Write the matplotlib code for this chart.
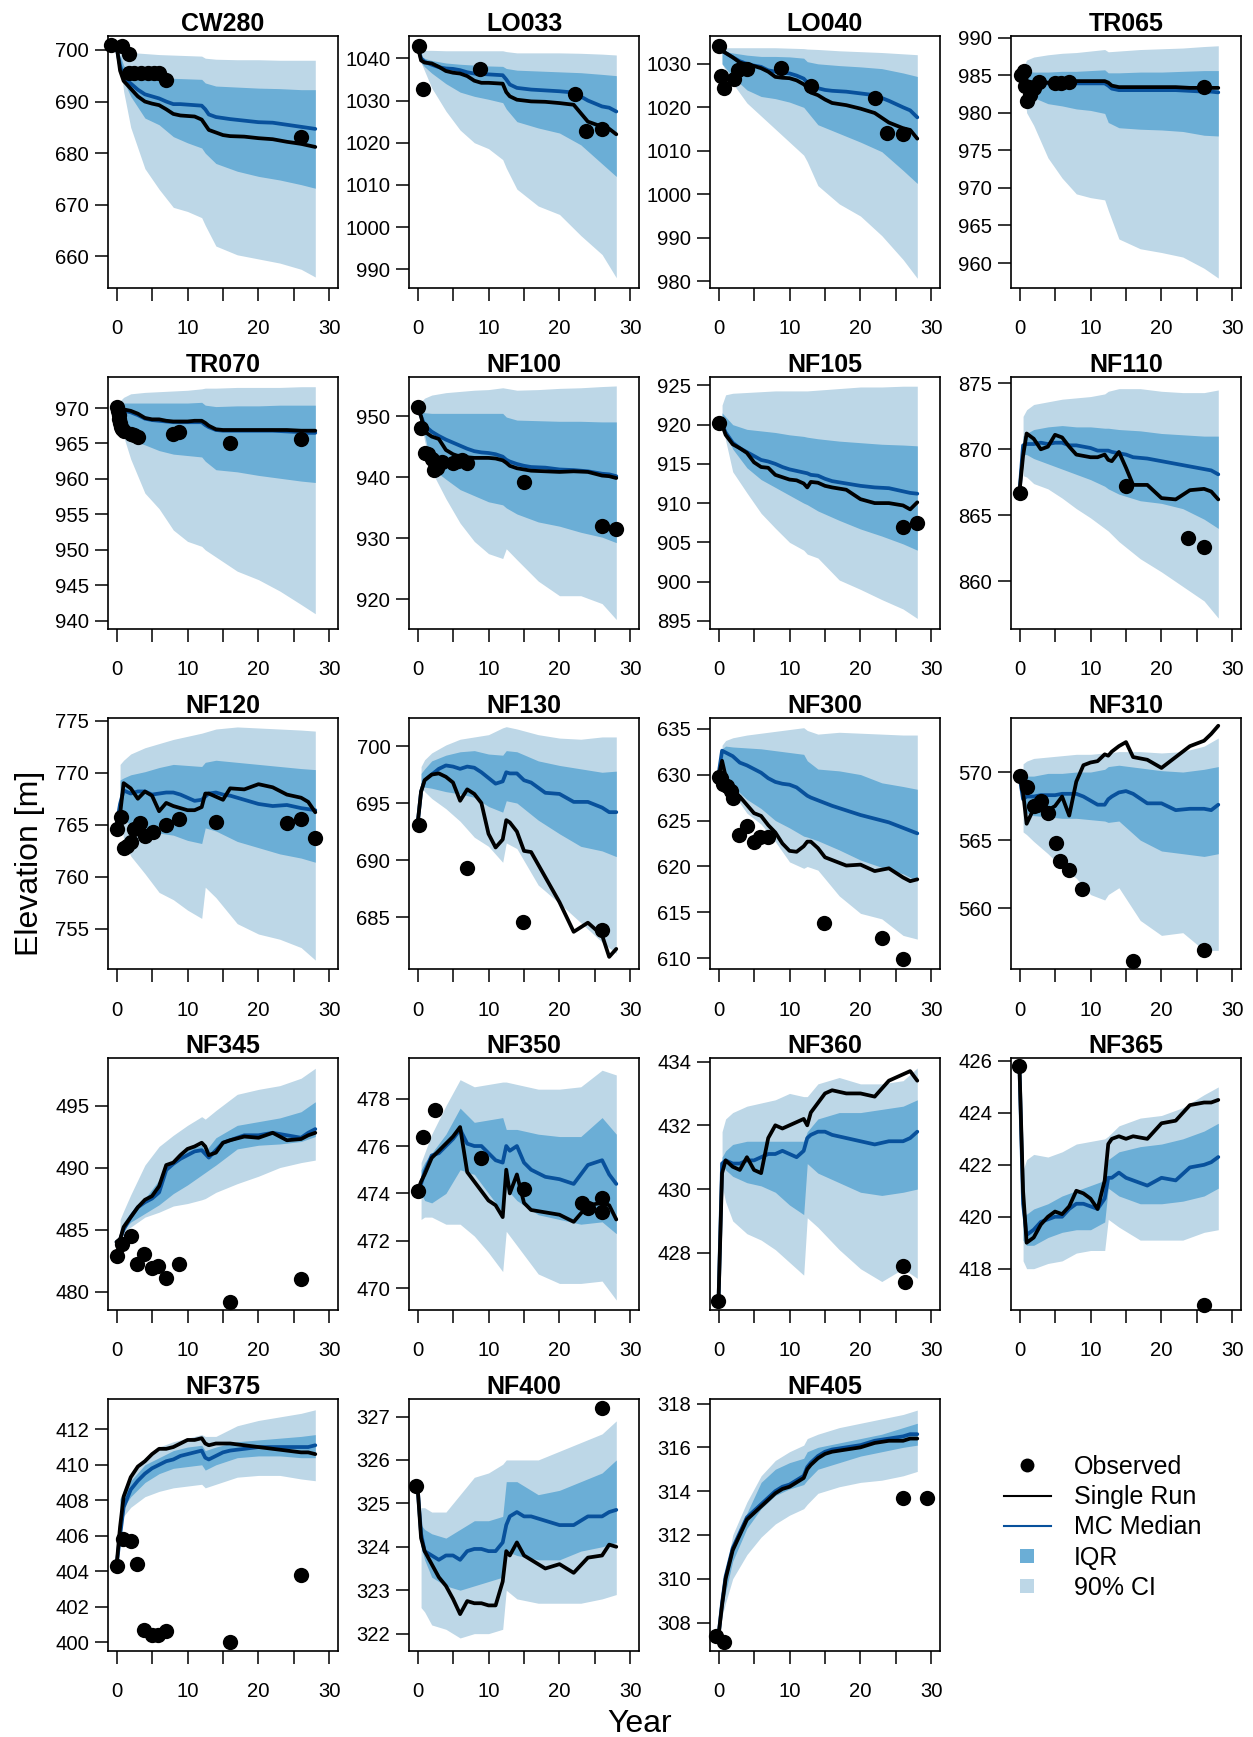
import matplotlib
matplotlib.use('Agg')
import matplotlib.pyplot as plt
from matplotlib.lines import Line2D
from matplotlib.ticker import MultipleLocator
import numpy as np

plt.rcParams['font.family'] = ['Liberation Sans', 'DejaVu Sans']

sites = ['CW280', 'LO033', 'LO040', 'TR065', 'TR070', 'NF100', 'NF105', 'NF110', 'NF120', 'NF130',
         'NF300', 'NF310', 'NF345', 'NF350', 'NF360', 'NF365', 'NF375', 'NF400', 'NF405']

y_limits = [(653.9, 702.7), (985.6, 1045.3), (978.5, 1036.4), (956.7, 990.2), (938.9, 974.4),
            (915.2, 956.5), (894.0, 926.1), (856.4, 875.5), (751.1, 775.3), (680.4, 702.5),
            (608.8, 636.2), (555.5, 574.0), (478.5, 498.8), (469.07, 479.7), (426.2, 434.1),
            (416.4, 426.1), (399.5, 413.7), (321.6, 327.4), (306.7, 318.2)]
y_steps = [10, 10, 10, 5, 5, 10, 5, 5, 5, 5, 5, 5, 5, 2, 2, 2, 2, 1, 2]

year_band = [0.5, 1, 2, 4, 6, 8, 10, 12, 12.5, 14, 17, 20, 23, 26, 28]
year_line = [0, 0.5, 1, 2, 3, 4, 5, 6, 7, 8, 9, 10, 11, 12, 12.5, 13, 14, 15, 16, 18, 20, 22, 24, 26, 27, 28]

ci_upper = [
    [700.5, 700, 699.5, 699.3, 699.1, 699, 698.9, 698.8, 698.4, 698.2, 698.1, 698.1, 698, 698, 698],
    [1041.9, 1041.9, 1041.9, 1041.8, 1041.8, 1041.8, 1041.8, 1041.8, 1041.6, 1041.3, 1041.3, 1041.3, 1041.2, 1041, 1040.8],
    [1033.7, 1033.7, 1033.7, 1033.7, 1033.7, 1033.7, 1033.6, 1033.5, 1033.4, 1033.3, 1033, 1032.8, 1032.6, 1032.3, 1032.1],
    [986, 987, 987.4, 987.7, 987.9, 988, 988.2, 988.4, 988.1, 988.2, 988.4, 988.5, 988.6, 988.8, 988.9],
    [971, 971.5, 972, 972.2, 972.3, 972.4, 972.5, 972.7, 972.8, 972.8, 972.9, 972.9, 972.9, 973, 973],
    [952.4, 953, 953.5, 953.9, 954.1, 954.3, 954.4, 954.7, 954.6, 954.3, 954.4, 954.6, 954.7, 954.9, 955],
    [922.5, 923.8, 924, 924.1, 924.2, 924.3, 924.3, 924.3, 924.3, 924.4, 924.6, 924.8, 924.8, 924.9, 924.9],
    [872.5, 873, 873.4, 873.6, 873.8, 873.9, 874, 874.2, 874.4, 874.6, 874.6, 874.4, 874.3, 874.3, 874.5],
    [770.8, 771.2, 771.8, 772.4, 772.8, 773.2, 773.5, 773.8, 773.9, 774.2, 774.4, 774.3, 774.2, 774.1, 774],
    [698.2, 698.8, 699.4, 700.1, 700.6, 700.8, 701, 701.6, 701.7, 701.5, 701, 700.7, 700.6, 700.8, 700.8],
    [633.2, 633.7, 634, 634.3, 634.5, 634.7, 634.9, 635.1, 634.8, 634.4, 634.6, 634.5, 634.4, 634.3, 634.3],
    [570.6, 570.8, 571, 571.1, 571.2, 571.3, 571.3, 571.4, 571.4, 571.5, 571.5, 571.4, 571.5, 571.9, 572.5],
    [485.8, 486.5, 487.8, 490.2, 491.7, 492.6, 493.4, 494.1, 493.9, 494.6, 495.9, 496.3, 496.6, 497.2, 498],
    [475.3, 475.7, 476.5, 477.7, 478.8, 478.5, 478.6, 478.7, 478.7, 478.6, 478.4, 478.4, 478.5, 479.2, 479],
    [431.8, 432.2, 432.4, 432.6, 432.7, 432.8, 433, 432.9, 432.9, 433.3, 433.5, 433.3, 433.3, 433.4, 433.8],
    [421.8, 422.2, 422.4, 422.3, 422.5, 422.8, 422.9, 423, 423.1, 423.5, 423.8, 423.9, 424.2, 424.7, 425],
    [408, 408.6, 409.5, 410.4, 411, 411.3, 411.5, 411.7, 411.6, 411.6, 412.2, 412.5, 412.7, 412.9, 413.1],
    [324.9, 324.9, 324.8, 324.8, 325.2, 325.6, 325.7, 325.9, 326, 326, 326, 326.2, 326.4, 326.6, 326.9],
    [309.3, 310.3, 312, 313.5, 314.7, 315.4, 315.8, 316.1, 316.4, 316.6, 316.9, 317.1, 317.3, 317.5, 317.7],
]

iqr_upper = [
    [699, 697, 695.5, 695, 694.7, 694.5, 694.4, 694.3, 693.6, 693, 692.8, 692.6, 692.5, 692.3, 692.3],
    [1040.5, 1040, 1039.5, 1038.9, 1038.6, 1038.4, 1038.2, 1038.1, 1037.6, 1037.2, 1037, 1036.8, 1036.6, 1036.2, 1035.9],
    [1033, 1032.8, 1032.5, 1032, 1031.7, 1031.7, 1031.6, 1031.3, 1030.5, 1030, 1029.6, 1029.3, 1028.9, 1027.9, 1027.1],
    [985.6, 985.5, 985.4, 985.4, 985.5, 985.5, 985.6, 985.7, 985.3, 985.3, 985.4, 985.4, 985.5, 985.6, 985.6],
    [970.6, 970.7, 970.7, 970.7, 970.7, 970.7, 970.7, 970.8, 970.4, 970.2, 970.3, 970.3, 970.4, 970.4, 970.4],
    [951, 950.6, 950.5, 950.5, 950.5, 950.5, 950.5, 950.5, 949.9, 949.4, 949.3, 949.2, 949.2, 949.1, 949.1],
    [921.5, 921, 920, 919.4, 919.2, 919, 918.7, 918.5, 918.4, 918.2, 917.9, 917.7, 917.5, 917.4, 917.3],
    [871, 871.2, 871.5, 871.7, 871.8, 871.7, 871.7, 871.6, 871.6, 871.5, 871.4, 871.2, 871.1, 871, 871],
    [769.3, 769.5, 769.8, 770.1, 770.5, 770.8, 770.7, 770.6, 771, 771.2, 771, 770.8, 770.6, 770.4, 770.3],
    [697.6, 698, 698.7, 699.2, 699.5, 699.6, 699.3, 699.2, 699.6, 699.5, 698.7, 698.3, 698, 697.7, 697.8],
    [632.8, 633.1, 633, 632.9, 632.8, 632.6, 632.4, 632.2, 631.5, 630.6, 630.4, 630, 629.1, 628.7, 628.4],
    [569.5, 569.7, 569.7, 569.9, 569.9, 570, 570, 570.2, 570.4, 570.5, 570.3, 570.1, 570, 570.2, 570.4],
    [485, 485.6, 486.4, 487.5, 489, 490.5, 491.5, 491.8, 491.3, 492.4, 493.4, 493.7, 494, 494.5, 495.3],
    [475, 475.3, 475.7, 476.5, 477.6, 477, 477.1, 477.2, 476.7, 476.7, 476.5, 476.4, 476.4, 477.2, 476.5],
    [431, 431.2, 431.4, 431.5, 431.5, 431.5, 431.5, 431.5, 431.8, 432.2, 432.4, 432.4, 432.5, 432.6, 432.8],
    [420, 420.1, 420.3, 420.5, 420.8, 421, 421.2, 421.4, 422.2, 422.5, 422.7, 422.8, 423, 423.3, 423.6],
    [408.1, 408.4, 409.1, 410, 410.4, 410.8, 411, 411.1, 410.8, 411, 411.3, 411.4, 411.5, 411.6, 411.7],
    [324.5, 324.4, 324.3, 324.2, 324.4, 324.6, 324.6, 324.7, 325.5, 325.5, 325.2, 325.3, 325.5, 325.7, 326],
    [309.1, 310, 311.5, 313, 314.4, 315, 315.3, 315.5, 315.8, 316, 316.2, 316.4, 316.6, 316.9, 317.1],
]

iqr_lower = [
    [698, 694, 691, 686.8, 685.5, 683.2, 682, 681, 680, 678, 676.5, 675.5, 674.8, 673.9, 673.2],
    [1039, 1038, 1036.5, 1034, 1032, 1031, 1030.3, 1029.5, 1028, 1025, 1023.5, 1022.3, 1019.5, 1015, 1012],
    [1030, 1029, 1027, 1024, 1022.5, 1022, 1021.2, 1020, 1019, 1016, 1014, 1012, 1009.8, 1005.5, 1002.5],
    [985, 983, 982, 981.2, 980.9, 980.5, 980.3, 979.9, 978.7, 978, 977.8, 977.7, 977.5, 977, 976.9],
    [969.5, 968, 965.5, 964.8, 964, 963.5, 963.3, 963.1, 962.5, 961.3, 961, 960.5, 960.1, 959.7, 959.5],
    [949.5, 947, 941.5, 939.7, 938, 937, 936, 935.5, 935, 934, 932.7, 932, 931, 930.2, 929.3],
    [920.6, 919, 916.9, 914.5, 913, 912, 911, 910, 909.8, 909, 907.8, 906.7, 905.8, 904.8, 904],
    [869.6, 869.6, 869.3, 868.9, 868.5, 868.1, 867.7, 867.2, 867, 866.6, 866.1, 865.9, 865.5, 864.7, 864],
    [767, 765.5, 765, 764.2, 764.2, 764, 763.5, 763.2, 764.7, 764.4, 763.4, 762.8, 762.2, 761.8, 761.4],
    [696.5, 696.4, 696.3, 696, 695.8, 695.5, 694.7, 694.2, 695.2, 695, 693.5, 692.3, 691.2, 690.8, 690.3],
    [631, 629.9, 628.7, 627.3, 626.3, 625, 624.2, 623.3, 623.2, 622.8, 621.8, 620.7, 619.9, 619.2, 618.4],
    [567.5, 567, 566.8, 566.7, 566.6, 566.6, 566.5, 566.4, 566.3, 566.4, 565, 564.2, 564, 563.8, 564],
    [484.5, 485, 485.6, 486.3, 487, 487.9, 488.6, 489.4, 489.6, 490.2, 491.5, 491.8, 491.9, 492.1, 492.5],
    [474, 473.7, 473.6, 474, 475, 474.8, 474, 473.2, 474.2, 473.7, 473.1, 472.9, 472.7, 472.8, 472.3],
    [430.8, 430.6, 430.4, 430.2, 430.1, 429.9, 429.5, 429.2, 430.8, 430.5, 430.2, 429.9, 429.8, 429.9, 430],
    [419.1, 418.9, 418.9, 419.2, 419.4, 419.5, 419.5, 419.8, 421.1, 420.8, 420.5, 420.5, 420.6, 420.8, 421.1],
    [407, 407.6, 408.2, 409, 409.5, 409.8, 409.9, 410, 409.7, 410, 410.4, 410.5, 410.5, 410.4, 410.4],
    [324, 323.7, 323.3, 323.1, 323, 323.1, 323.2, 323.3, 323.9, 323.8, 323.7, 323.7, 323.9, 324, 324.1],
    [308.6, 309.4, 310.8, 312.3, 313.2, 313.8, 314.1, 314.3, 314.5, 315, 315.3, 315.6, 315.8, 316, 316.1],
]

ci_lower = [
    [698, 692, 685, 677, 673, 669.5, 668.7, 667.5, 666, 662, 660.3, 659.5, 658.7, 657.5, 656],
    [1039, 1037, 1033, 1027.5, 1023, 1020, 1018.6, 1016, 1014, 1009, 1005, 1003, 998, 993.5, 988],
    [1030, 1028.5, 1025.5, 1021, 1018, 1015, 1012, 1009, 1007.5, 1002, 997.8, 995, 990.5, 985, 980.7],
    [985, 980, 978.3, 974, 971.3, 969.2, 968.7, 968.4, 967, 963.2, 961.9, 961.4, 960.8, 959.3, 958],
    [969, 966, 962.8, 958, 955.8, 952.8, 951.2, 950.5, 950, 949, 947, 945.8, 944.2, 942.3, 941],
    [949, 946, 941, 936.5, 932.5, 929.5, 927.5, 926.7, 928.3, 926.5, 923, 920.6, 920.6, 919.3, 916.7],
    [920, 918, 914, 911.3, 908.7, 906.8, 905, 904, 903.5, 903, 900.2, 899, 897.7, 896.5, 895.3],
    [868, 867.9, 867.4, 867, 866.3, 865.5, 864.8, 864, 863.8, 863, 861.7, 860.7, 859.6, 858.5, 857.2],
    [767, 763.5, 762, 760.3, 758.5, 757.8, 756.8, 756, 759, 758, 755.5, 754.5, 754, 753.2, 752],
    [696.5, 696, 695.4, 694.5, 693.4, 692, 691.2, 689.8, 691.5, 691, 687.8, 686.2, 684.5, 682.8, 681.8],
    [631, 629.5, 628, 625.8, 624.6, 622.7, 620.5, 619.8, 620, 619.6, 616.8, 614.9, 614.3, 612.5, 612.1],
    [565.6, 565.4, 564.9, 564, 563, 562.2, 561, 560.6, 561, 561.5, 559.1, 558, 558.2, 556.9, 556.9],
    [484.6, 484.8, 485.2, 486, 486.4, 486.9, 487.1, 487.4, 487.5, 488, 488.7, 489.3, 490, 490.4, 490.6],
    [472.9, 473, 473, 472.7, 472.7, 472.2, 471.5, 470.7, 472.4, 471.8, 470.6, 470.2, 470.2, 470.3, 469.5],
    [430.1, 429.6, 429, 428.6, 428.4, 428.1, 427.7, 427.3, 429.1, 428.8, 428.1, 427.5, 427.1, 427.5, 427.2],
    [418.3, 418, 418, 418.2, 418.3, 418.6, 418.7, 418.7, 419.9, 419.6, 419.1, 419.1, 419.1, 419.4, 419.5],
    [406.6, 407.1, 407.6, 408.2, 408.5, 408.7, 408.8, 408.9, 408.7, 408.9, 409.3, 409.4, 409.4, 409.2, 409.1],
    [322.6, 322.5, 322.2, 322.1, 321.9, 322, 322, 322.1, 323, 322.8, 322.7, 322.7, 322.7, 322.8, 322.9],
    [308.3, 308.9, 310, 311.1, 311.9, 312.5, 312.9, 313.2, 313.4, 313.9, 314.2, 314.4, 314.5, 314.7, 314.9],
]

mc_median = [
    [700.5, 697, 694.5, 693.5, 692.3, 691.4, 691, 690.6, 690, 689.5, 689.5, 689.4, 689.3, 689.2, 688.5, 687.5, 687, 686.8, 686.6, 686.3, 686, 685.9, 685.5, 685.1, 684.9, 684.7],
    [1043, 1040, 1039.2, 1038.5, 1037.9, 1037.6, 1037.5, 1037.2, 1036.7, 1036.4, 1036.3, 1036.2, 1036.1, 1036, 1035, 1033.8, 1033, 1032.8, 1032.6, 1032.4, 1032.2, 1031.9, 1030, 1028.6, 1028.3, 1027.4],
    [1034, 1033, 1032.5, 1031.5, 1030.6, 1030, 1029.6, 1029.3, 1028.5, 1028.2, 1028, 1027.8, 1027.3, 1026.6, 1025.7, 1025, 1024.4, 1024, 1023.8, 1023.6, 1023.2, 1022.8, 1021.5, 1020, 1019.3, 1017.7],
    [985, 984.4, 984.1, 984, 984, 983.9, 983.9, 983.9, 983.9, 983.9, 983.9, 983.9, 983.9, 983.9, 983.6, 983.2, 983, 983, 983, 983, 983, 983, 982.9, 982.8, 982.8, 982.7],
    [970, 969.7, 969.6, 969.4, 969, 968.5, 968.3, 968.2, 968.1, 968, 968, 968, 968, 968, 967.6, 967.3, 966.9, 966.8, 966.8, 966.8, 966.8, 966.8, 966.7, 966.6, 966.5, 966.5],
    [951.5, 950, 948.5, 947.5, 946.8, 946.2, 945.7, 945.2, 944.7, 944.3, 944.1, 944, 943.8, 943.4, 942.9, 942.6, 942.2, 941.9, 941.7, 941.6, 941.3, 941.2, 941, 940.6, 940.5, 940.2],
    [920.2, 920, 919, 917.7, 917, 916.5, 916, 915.5, 915.3, 915, 914.6, 914.3, 914.1, 913.9, 913.8, 913.6, 913.5, 913.1, 912.8, 912.5, 912.2, 912, 911.9, 911.5, 911.3, 911.2],
    [866.8, 870.3, 870.4, 870.4, 870.5, 870.4, 870.5, 870.5, 870.3, 870.3, 870.2, 870.1, 869.9, 869.9, 869.9, 869.8, 869.7, 869.6, 869.4, 869.3, 869.1, 868.9, 868.7, 868.5, 868.4, 868.1],
    [765, 767, 768.3, 768, 768.2, 768.2, 767.9, 768, 768.1, 768.1, 767.9, 767.6, 767.3, 767.4, 767.7, 768, 768.1, 767.9, 767.8, 767.4, 767, 766.8, 766.9, 766.6, 766.5, 766.4],
    [693.1, 696, 697, 697.5, 698, 698.3, 698.2, 698, 698.2, 698.1, 697.7, 697.2, 696.7, 696.9, 697.7, 697.6, 697.6, 697, 696.8, 695.9, 695.8, 695.1, 695.1, 694.6, 694.2, 694.2],
    [630, 632.6, 632.4, 632, 631.3, 631, 630.6, 630.2, 629.6, 629.2, 629, 628.9, 628.6, 628, 627.7, 627.5, 627.2, 626.9, 626.6, 626.1, 625.6, 625.2, 624.8, 624.2, 623.9, 623.6],
    [569.7, 568, 568.2, 568.2, 568.3, 568.3, 568.3, 568.4, 568.4, 568.4, 568.2, 567.9, 567.6, 567.6, 568, 568.2, 568.5, 568.6, 568.4, 567.7, 567.7, 567.2, 567.3, 567.3, 567.2, 567.6],
    [484, 484.2, 485, 486, 486.8, 487.2, 487.5, 488, 489.8, 490.3, 490.7, 491, 491.3, 491.4, 491.1, 490.8, 491.4, 492, 492.2, 492.6, 492.6, 492.8, 492.6, 492.4, 492.8, 493.1],
    [474.1, 474.4, 474.9, 475.6, 475.7, 476, 476.3, 476.7, 476.1, 476, 476, 475.7, 475.4, 475.3, 476, 475.8, 476, 475.3, 475, 474.7, 474.6, 474.4, 475.2, 475.4, 474.8, 474.4],
    [426.5, 430.8, 430.9, 430.8, 430.8, 430.9, 430.9, 431, 431.1, 431.1, 431.2, 431.1, 431, 431.2, 431.6, 431.7, 431.8, 431.8, 431.7, 431.6, 431.5, 431.4, 431.5, 431.5, 431.6, 431.8],
    [425.7, 420.5, 419.3, 419.5, 419.8, 419.9, 420, 420, 420.3, 420.5, 420.5, 420.4, 420.3, 420.7, 421.5, 421.5, 421.7, 421.5, 421.4, 421.2, 421.5, 421.4, 421.9, 422, 422.1, 422.3],
    [404.3, 406, 407.6, 408.6, 409.1, 409.5, 409.8, 410, 410.2, 410.3, 410.5, 410.6, 410.7, 410.8, 410.4, 410.3, 410.5, 410.7, 410.8, 410.9, 411, 411, 411, 411, 411, 411.1],
    [325.4, 324.3, 323.9, 323.8, 323.7, 323.8, 323.8, 323.7, 323.9, 323.95, 323.95, 323.9, 323.9, 324.1, 324.5, 324.7, 324.8, 324.7, 324.7, 324.6, 324.5, 324.5, 324.7, 324.7, 324.8, 324.85],
    [307.4, 308.9, 310.1, 311.4, 312.1, 312.8, 313.1, 313.4, 313.7, 314, 314.2, 314.3, 314.5, 314.7, 315.1, 315.3, 315.6, 315.8, 315.9, 316, 316.1, 316.3, 316.4, 316.5, 316.6, 316.6],
]

single_run = [
    [701, 696, 694, 692.5, 691, 690, 689.6, 689.3, 688.5, 687.6, 687.3, 687.2, 687.1, 686.5, 685.5, 684.5, 684, 683.5, 683.3, 683.2, 682.9, 682.7, 682.2, 681.8, 681.5, 681.2],
    [1043, 1039.5, 1039, 1038.8, 1038, 1037, 1036.6, 1036.4, 1035.8, 1034.7, 1034.2, 1034.2, 1034.1, 1034, 1032, 1031, 1030.2, 1030, 1029.8, 1029.7, 1029.4, 1029, 1025, 1023.8, 1023.3, 1022],
    [1034, 1033, 1032.5, 1031.5, 1030.3, 1029.8, 1029.5, 1029, 1028.2, 1027, 1026.8, 1026.7, 1026.2, 1025.3, 1024.6, 1023.4, 1022.8, 1021.8, 1021, 1020.5, 1019.7, 1018.7, 1016.5, 1015.2, 1014.8, 1012.8],
    [985.3, 984.6, 984.2, 984, 984, 984, 984.1, 984.1, 984.2, 984.2, 984.2, 984.2, 984.2, 984.2, 984, 983.6, 983.4, 983.4, 983.4, 983.4, 983.4, 983.4, 983.3, 983.3, 983.3, 983.3],
    [970.2, 969.9, 969.8, 969.6, 969.2, 968.6, 968.4, 968.4, 968.2, 968.1, 968.1, 968.1, 968.2, 968.2, 967.9, 967.5, 967, 966.9, 966.9, 966.9, 966.9, 966.9, 966.9, 966.8, 966.8, 966.8],
    [951.5, 950, 947.5, 946.7, 946.3, 944.5, 943.8, 943.4, 943.3, 943.2, 943.2, 943.2, 943.1, 942.8, 942.4, 941.9, 941.5, 941.3, 941.1, 941, 940.9, 941, 940.9, 940.3, 940.2, 939.9],
    [920.2, 920, 918.7, 917.5, 917, 916.4, 915.2, 914.6, 914.5, 913.6, 913.3, 913, 912.9, 912.5, 912, 912.7, 912.6, 912.2, 912, 911.7, 910.5, 910, 910, 909.7, 909.2, 910.1],
    [866.8, 869.5, 871.2, 870.8, 870, 870.2, 871.1, 870.9, 870.2, 869.6, 869.5, 869.4, 869.4, 869.6, 869.2, 869.1, 869.8, 868.6, 867.3, 867.3, 866.3, 866.2, 866.9, 867, 866.8, 866.2],
    [765, 766, 769, 768.5, 767.5, 768.2, 767.8, 766.3, 767.1, 766.8, 766.6, 766.4, 766.4, 766.7, 768, 768, 767.7, 767.4, 768.5, 768.4, 768.9, 768.6, 767.9, 767.6, 767.2, 766.2],
    [693.1, 696, 697, 697.5, 697.6, 697.3, 696.8, 695.2, 696.2, 695.8, 695, 692.3, 691.1, 691.8, 693.5, 693.3, 692.5, 690.8, 690.7, 688.5, 686.3, 683.7, 684.5, 683.4, 681.5, 682.2],
    [629.7, 631.5, 629.8, 628.2, 627.6, 626.7, 625.8, 625.5, 624.5, 623.7, 622.5, 621.7, 621.6, 622.2, 622.7, 622.7, 622, 621, 620.7, 620.1, 620.2, 619.5, 619.8, 618.8, 618.4, 618.6],
    [569.7, 568.5, 566.2, 567.3, 567.8, 567.2, 567.5, 568.2, 566.8, 569.3, 570.5, 570.7, 570.8, 571.3, 571.2, 571.5, 571.9, 572.2, 571.1, 570.9, 570.3, 571.1, 571.9, 572.3, 572.8, 573.4],
    [484, 484.2, 485.2, 486, 486.8, 487.4, 487.7, 488.5, 490.2, 490.4, 491, 491.5, 491.7, 492, 491.7, 491, 491.2, 492, 492.2, 492.5, 492.4, 492.8, 492.2, 492.3, 492.6, 492.8],
    [474.1, 474.5, 474.8, 475.5, 475.8, 476.1, 476.4, 476.8, 474.9, 474.5, 474.1, 473.7, 473.5, 473, 475, 474, 474.8, 473.6, 473.3, 473.2, 473.1, 472.8, 473.5, 473.6, 473.5, 472.9],
    [426.5, 430.5, 430.9, 430.7, 430.6, 431, 430.6, 430.5, 431.6, 432, 431.9, 432, 432.1, 432.2, 432, 432.4, 432.7, 433, 433.1, 433, 433, 432.9, 433.4, 433.6, 433.7, 433.4],
    [425.7, 421, 419, 419.2, 419.7, 420, 420.2, 420.1, 420.4, 421, 420.9, 420.7, 420.3, 421.4, 422.8, 423, 423.1, 423, 423.1, 423, 423.6, 423.7, 424.3, 424.4, 424.4, 424.5],
    [404.3, 406.5, 408.2, 409.3, 409.9, 410.2, 410.6, 410.9, 410.9, 411, 411.2, 411.4, 411.4, 411.5, 411.2, 411.1, 411.2, 411.2, 411.2, 411.1, 411, 410.9, 410.8, 410.7, 410.7, 410.6],
    [325.4, 324.2, 323.9, 323.6, 323.3, 323.1, 322.8, 322.45, 322.75, 322.7, 322.7, 322.65, 322.65, 323.2, 323.9, 323.8, 324.1, 323.8, 323.7, 323.5, 323.6, 323.4, 323.75, 323.8, 324.05, 324],
    [307.4, 308.8, 310, 311.3, 312, 312.7, 313, 313.3, 313.6, 313.9, 314.1, 314.2, 314.4, 314.6, 315, 315.2, 315.5, 315.7, 315.8, 315.9, 316, 316.2, 316.3, 316.3, 316.4, 316.4],
]

obs_year = [
    [-0.8, 0.8, 1.7, 1.7, 2.5, 3.5, 4.5, 5.3, 6, 7, 26],
    [0.2, 0.8, 8.8, 22.2, 23.7, 26],
    [0.1, 0.3, 0.8, 2.2, 2.8, 4, 8.8, 13, 22, 23.8, 26],
    [0.2, 0.6, 0.8, 1.1, 1.5, 2, 2.8, 5, 5.8, 7, 26],
    [0.1, 0.2, 0.3, 0.4, 0.5, 0.6, 0.8, 1, 2, 2.5, 3, 7.9, 8.8, 16, 26],
    [0, 0.5, 1, 1.5, 2, 2.3, 2.8, 3.5, 5, 5.7, 6.3, 7, 15, 26, 27.9],
    [0, 26, 27.9],
    [0, 15, 23.7, 26],
    [0, 0.7, 1.1, 1.5, 2, 2.5, 3.3, 4, 5.2, 7, 8.8, 14, 24, 26, 27.9],
    [0.2, 7, 14.8, 26],
    [0, 0.3, 0.7, 1.2, 1.8, 2, 2.9, 4, 5, 5.8, 7, 14.9, 23, 26],
    [0, 1, 2, 2.5, 3, 4, 5.2, 5.7, 7, 8.8, 16, 26],
    [0, 0.8, 2, 2.9, 3.9, 5, 5.9, 7, 8.8, 16, 26],
    [0, 0.8, 2.5, 9, 15, 23.2, 24, 26, 26],
    [-0.1, 26, 26.2],
    [-0.1, 26],
    [0, 0.9, 2, 2.9, 3.9, 5, 5.9, 7, 16, 26],
    [-0.2, 26],
    [-0.3, 0.8, 26, 29.3],
]

obs_elev = [
    [701, 700.7, 699.3, 695.5, 695.5, 695.5, 695.5, 695.5, 695.5, 694.2, 683.2],
    [1043, 1032.8, 1037.4, 1031.5, 1022.7, 1023.2],
    [1034.2, 1027.3, 1024.5, 1026.5, 1028.5, 1028.9, 1029, 1025, 1022.2, 1014, 1013.8],
    [985, 985.6, 983.5, 981.6, 982.3, 983.3, 984.1, 983.9, 983.9, 984.1, 983.4],
    [970.2, 969.6, 969, 968.4, 967.9, 967.3, 967, 966.7, 966.4, 966.2, 965.9, 966.4, 966.6, 965, 965.6],
    [951.5, 948.1, 944, 943.9, 943.1, 941.2, 941.5, 942.5, 942.4, 942.7, 942.8, 942.3, 939.2, 932, 931.6],
    [920.2, 907, 907.5],
    [866.7, 867.2, 863.3, 862.6],
    [764.6, 765.7, 762.8, 763, 763.3, 764.6, 765.2, 763.9, 764.3, 765, 765.6, 765.3, 765.2, 765.6, 763.7],
    [693.1, 689.3, 684.6, 683.9],
    [629.7, 629.6, 629, 628.8, 628.2, 627.5, 623.4, 624.4, 622.7, 623.2, 623.2, 613.8, 612.2, 609.9],
    [569.7, 568.9, 567.5, 567.6, 567.9, 567, 564.8, 563.5, 562.8, 561.4, 556.1, 556.9],
    [482.9, 483.8, 484.5, 482.2, 483, 481.9, 482.1, 481.1, 482.2, 479.2, 481],
    [474.1, 476.4, 477.5, 475.5, 474.2, 473.6, 473.4, 473.8, 473.2],
    [426.5, 427.6, 427.1],
    [425.8, 416.6],
    [404.3, 405.8, 405.7, 404.4, 400.7, 400.4, 400.4, 400.6, 400, 403.8],
    [325.4, 327.2],
    [307.4, 307.1, 313.7, 313.7],
]

CI_COLOR = '#BDD7E7'
IQR_COLOR = '#6BAED6'
MEDIAN_COLOR = '#08519C'


def plot_site(ax, i):
    ax.fill_between(year_band, ci_lower[i], ci_upper[i], color=CI_COLOR, lw=0)
    ax.fill_between(year_band, iqr_lower[i], iqr_upper[i], color=IQR_COLOR, lw=0)
    ax.plot(year_line, mc_median[i], color=MEDIAN_COLOR, lw=2.7, solid_capstyle='round')
    ax.plot(year_line, single_run[i], color='black', lw=2.7, solid_capstyle='round')
    ax.plot(obs_year[i], obs_elev[i], 'o', color='black', ms=11, mew=0, clip_on=False, zorder=5)

    ax.set_title(sites[i], fontsize=18, fontweight='bold', pad=1.2)
    ax.set_xlim(-1.2, 31.2)
    ax.set_ylim(*y_limits[i])
    ax.set_xticks(np.arange(0, 31, 5))
    ax.set_xticklabels(['0', '', '10', '', '20', '', '30'])
    ax.yaxis.set_major_locator(MultipleLocator(y_steps[i]))
    ax.tick_params(axis='x', length=9.5, width=1.1, labelsize=14.6, pad=13)
    ax.tick_params(axis='y', length=9.5, width=1.1, labelsize=14.6, pad=4)
    for spine in ax.spines.values():
        spine.set_linewidth(1.2)


def main():
    fig, axes = plt.subplots(5, 4, figsize=(12.53, 17.37), dpi=100)
    fig.subplots_adjust(left=108 / 1253, right=1241 / 1253, top=1 - 36 / 1737, bottom=1 - 1651 / 1737,
                        wspace=71 / 230, hspace=89 / 252)
    flat = axes.ravel()
    for i in range(len(sites)):
        plot_site(flat[i], i)
    flat[-1].axis('off')

    handles = [
        Line2D([], [], color='black', marker='o', ms=10, mew=0, ls='none'),
        Line2D([], [], color='black', lw=1.5),
        Line2D([], [], color=MEDIAN_COLOR, lw=1.5),
        Line2D([], [], color=IQR_COLOR, marker='s', ms=10, mew=0, ls='none'),
        Line2D([], [], color=CI_COLOR, marker='s', ms=10, mew=0, ls='none'),
    ]
    fig.legend(handles, ['Observed', 'Single Run', 'MC Median', 'IQR', '90% CI'], fontsize=18, frameon=False,
               loc='upper left', bbox_to_anchor=(1003.5 / 1253, 1 - 1455 / 1737), borderaxespad=0, borderpad=0,
               handlelength=1.88, handletextpad=0.92, labelspacing=0.25)

    fig.text(30 / 1253, 1 - 863 / 1737, 'Elevation [m]', rotation=90, fontsize=23, ha='center', va='center')
    fig.text(640 / 1253, 1 - 1724 / 1737, 'Year', fontsize=23, ha='center', va='center')

    fig.savefig('out.png', dpi=100)


if __name__ == '__main__':
    main()
